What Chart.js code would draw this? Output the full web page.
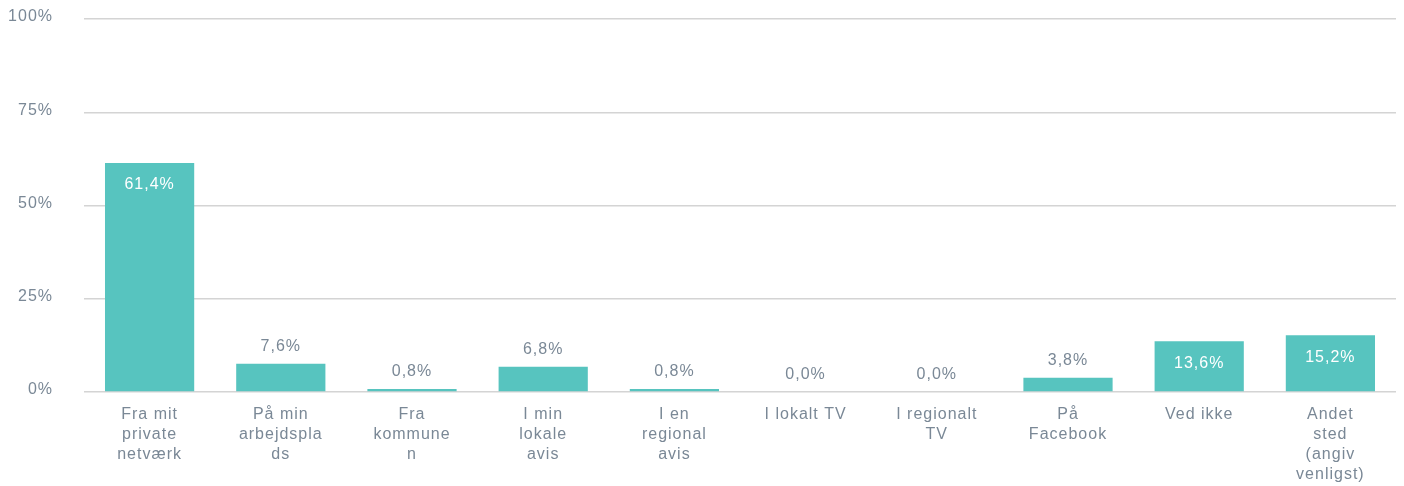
<!DOCTYPE html>
<html>
<head>
<meta charset="utf-8">
<script src="https://cdn.jsdelivr.net/npm/chart.js@4"></script>
<style>
    html, body { margin: 0; padding: 0; background: #ffffff; }
    .wrap { position: relative; width: 1404px; height: 486px; }
</style>
</head>
<body>
<div class="wrap"><canvas id="chart"></canvas></div>
<script>
// data
const categories = [
    ['Fra mit', 'private', 'netværk'],
    ['På min', 'arbejdspla', 'ds'],
    ['Fra', 'kommune', 'n'],
    ['I min', 'lokale', 'avis'],
    ['I en', 'regional', 'avis'],
    ['I lokalt TV'],
    ['I regionalt', 'TV'],
    ['På', 'Facebook'],
    ['Ved ikke'],
    ['Andet', 'sted', '(angiv', 'venligst)']
];
const values = [61.4, 7.6, 0.8, 6.8, 0.8, 0.0, 0.0, 3.8, 13.6, 15.2];
const yTicks = [0, 25, 50, 75, 100];

const barColor = '#57c4bf';
const textColor = '#7a8896';
const fontFamily = '"Liberation Sans", Arial, sans-serif';

const fmt = v => v.toFixed(1).replace('.', ',') + '%';

// the reference text is slightly tracked out
const spacing = {
    id: 'spacing',
    beforeUpdate(chart) { chart.ctx.letterSpacing = '1px'; },
    beforeDraw(chart) { chart.ctx.letterSpacing = '1px'; }
};

// value labels: inside the bar when tall enough, above otherwise
const valueLabels = {
    id: 'valueLabels',
    afterDatasetsDraw(chart) {
        const ctx = chart.ctx;
        const meta = chart.getDatasetMeta(0);
        ctx.save();
        ctx.font = '16px ' + fontFamily;
        ctx.letterSpacing = '1px';
        ctx.textAlign = 'center';
        ctx.textBaseline = 'middle';
        meta.data.forEach((bar, i) => {
            const v = values[i];
            if (v >= 10) {
                ctx.fillStyle = '#ffffff';
                ctx.fillText(fmt(v), bar.x, bar.y + 22);
            } else {
                ctx.fillStyle = textColor;
                ctx.fillText(fmt(v), bar.x, bar.y - 17);
            }
        });
        ctx.restore();
    }
};

// keep the axes from pushing the plot area around
function noPad(scale) {
    scale.paddingTop = 0;
    scale.paddingBottom = 0;
}

new Chart(document.getElementById('chart'), {
    type: 'bar',
    data: {
        labels: categories,
        datasets: [{
            data: values,
            backgroundColor: barColor,
            borderWidth: 0,
            categoryPercentage: 1,
            barPercentage: 0.68
        }]
    },
    options: {
        responsive: true,
        maintainAspectRatio: false,
        animation: false,
        layout: { padding: { top: 19, right: 8, left: 0, bottom: 0 } },
        plugins: {
            legend: { display: false },
            tooltip: { enabled: false }
        },
        scales: {
            x: {
                grid: { display: false, drawTicks: false },
                border: { display: false },
                ticks: {
                    color: textColor,
                    font: { family: fontFamily, size: 16, lineHeight: 1.25 },
                    padding: 13,
                    autoSkip: false,
                    maxRotation: 0,
                    minRotation: 0
                },
                afterFit(scale) { noPad(scale); scale.height = 94; }
            },
            y: {
                min: 0,
                max: 100,
                afterBuildTicks(scale) { scale.ticks = yTicks.map(v => ({ value: v })); },
                grid: { color: '#d4d4d4', lineWidth: 1.5, drawTicks: false },
                border: { display: false },
                ticks: {
                    color: textColor,
                    font: { family: fontFamily, size: 16 },
                    padding: 31,
                    labelOffset: -2,
                    callback: v => v + '%'
                },
                afterFit(scale) { noPad(scale); scale.width = 84; }
            }
        }
    },
    plugins: [spacing, valueLabels]
});
</script>
</body>
</html>
